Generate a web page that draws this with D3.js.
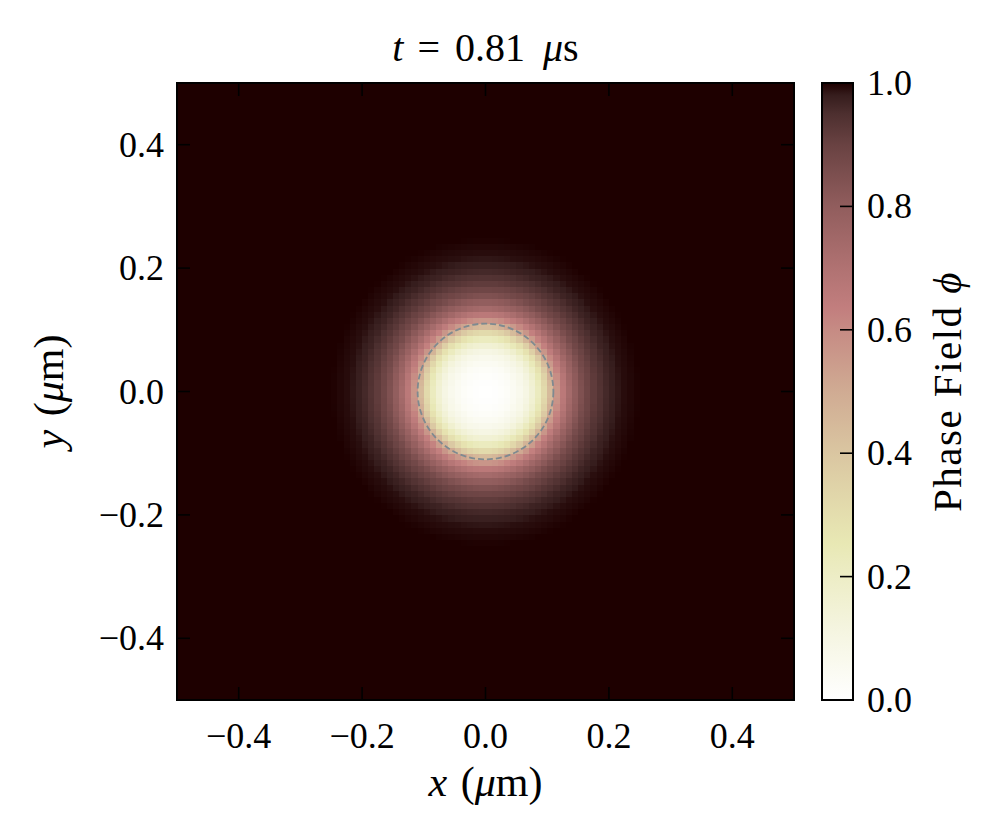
<!DOCTYPE html>
<html>
<head>
<meta charset="utf-8">
<script src="https://cdn.jsdelivr.net/npm/d3@7"></script>
<style>
  body { margin: 0; background: #fff; }
  text { font-family: "Liberation Serif", "DejaVu Serif", serif; fill: #000; }
</style>
</head>
<body>
<div id="chart"></div>
<script>
// radial profile of the phase field (r in um)
var profileR   = [0, 0.02, 0.04, 0.06, 0.07, 0.08, 0.09, 0.10, 0.11, 0.12, 0.13, 0.14, 0.16, 0.18, 0.20, 0.22, 0.25, 0.75];
var profilePhi = [0, 0.01, 0.03, 0.08, 0.12, 0.18, 0.26, 0.37, 0.51, 0.62, 0.70, 0.77, 0.87, 0.93, 0.97, 0.99, 1.0, 1.0];
var gridN = 100;           // cells per side
var domainXY = [-0.5, 0.5];
var interfaceR = 0.11;     // dashed circle radius
var axisTicks = [-0.4, -0.2, 0.0, 0.2, 0.4];
var cbTicks = [0, 0.2, 0.4, 0.6, 0.8, 1.0];
var titleTime = "0.81";

// pink_r colormap stops
var cmapPos = [0, 0.1, 0.2, 0.254, 0.3, 0.4, 0.5, 0.6, 0.635, 0.7, 0.8, 0.9, 0.95, 0.98, 1];
var cmapCol = ["#ffffff", "#f6f6e4", "#ededc6", "#e8e8b4", "#e4deae", "#dac6a1", "#d0ab93",
               "#c68b84", "#c27e7e", "#b07272", "#915d5d", "#694242", "#4d2f2f", "#361d1d", "#1e0000"];

var W = 998, H = 834;
var plot = {left: 177, right: 794, top: 83, bottom: 700};
var cb = {left: 822, right: 853, top: 83, bottom: 700};

var svg = d3.select("#chart").append("svg")
    .attr("width", W)
    .attr("height", H);

var x = d3.scaleLinear().domain(domainXY).range([plot.left, plot.right]);
var y = d3.scaleLinear().domain(domainXY).range([plot.bottom, plot.top]);
var color = d3.scaleLinear().domain(cmapPos).range(cmapCol).clamp(true);
var profile = d3.scaleLinear().domain(profileR).range(profilePhi).clamp(true);

// grid cells
var step = (domainXY[1] - domainXY[0]) / gridN;
var cells = [];
d3.range(gridN).forEach(function(j) {
    d3.range(gridN).forEach(function(i) {
        var cx = domainXY[0] + (i + 0.5) * step;
        var cy = domainXY[0] + (j + 0.5) * step;
        cells.push({x0: domainXY[0] + i * step, y0: domainXY[0] + j * step,
                    phi: profile(Math.sqrt(cx * cx + cy * cy))});
    });
});

svg.append("g")
    .attr("shape-rendering", "crispEdges")
    .selectAll("rect")
    .data(cells)
    .enter()
    .append("rect")
    .attr("x", function(d) { return x(d.x0); })
    .attr("y", function(d) { return y(d.y0 + step); })
    .attr("width", x(step) - x(0) + 0.5)
    .attr("height", y(0) - y(step) + 0.5)
    .attr("fill", function(d) { return color(d.phi); });

// interface circle
svg.append("ellipse")
    .attr("cx", x(0))
    .attr("cy", y(0))
    .attr("rx", x(interfaceR) - x(0))
    .attr("ry", y(0) - y(interfaceR))
    .attr("fill", "none")
    .attr("stroke", "#7f8a90")
    .attr("stroke-width", 1.8)
    .attr("stroke-dasharray", "6,3");

// frame + inward ticks on all sides
var tickLen = 13;
var ticks = svg.append("g").attr("stroke", "#000").attr("stroke-width", 1.6);
axisTicks.forEach(function(t) {
    ticks.append("line").attr("x1", x(t)).attr("x2", x(t)).attr("y1", plot.bottom).attr("y2", plot.bottom - tickLen);
    ticks.append("line").attr("x1", x(t)).attr("x2", x(t)).attr("y1", plot.top).attr("y2", plot.top + tickLen);
    ticks.append("line").attr("y1", y(t)).attr("y2", y(t)).attr("x1", plot.left).attr("x2", plot.left + tickLen);
    ticks.append("line").attr("y1", y(t)).attr("y2", y(t)).attr("x1", plot.right).attr("x2", plot.right - tickLen);
});
svg.append("rect")
    .attr("x", plot.left).attr("y", plot.top)
    .attr("width", plot.right - plot.left).attr("height", plot.bottom - plot.top)
    .attr("fill", "none").attr("stroke", "#000").attr("stroke-width", 2);

var fmt = d3.format(".1f");
svg.append("g").selectAll("text")
    .data(axisTicks).enter().append("text")
    .attr("x", function(d) { return x(d); })
    .attr("y", 748)
    .attr("text-anchor", "middle")
    .style("font-size", "36px")
    .text(fmt);

svg.append("g").selectAll("text")
    .data(axisTicks).enter().append("text")
    .attr("x", 164)
    .attr("y", function(d) { return y(d) + 12; })
    .attr("text-anchor", "end")
    .style("font-size", "36px")
    .text(fmt);

// axis labels
var xl = svg.append("text")
    .attr("x", x(0)).attr("y", 796)
    .attr("text-anchor", "middle")
    .style("font-size", "42px");
xl.append("tspan").style("font-style", "italic").text("x");
xl.append("tspan").attr("dx", 3).text(" (");
xl.append("tspan").style("font-style", "italic").text("μ");
xl.append("tspan").text("m)");

var yl = svg.append("text")
    .attr("transform", "translate(63," + y(0) + ") rotate(-90)")
    .attr("text-anchor", "middle")
    .style("font-size", "42px");
yl.append("tspan").style("font-style", "italic").text("y");
yl.append("tspan").attr("dx", 3).text(" (");
yl.append("tspan").style("font-style", "italic").text("μ");
yl.append("tspan").text("m)");

// title
var tt = svg.append("text")
    .attr("x", x(0)).attr("y", 61)
    .attr("text-anchor", "middle")
    .style("font-size", "40px");
tt.append("tspan").style("font-style", "italic").text("t");
tt.append("tspan").attr("dx", 14).text("=");
tt.append("tspan").attr("dx", 15).text(titleTime);
tt.append("tspan").attr("dx", 18).style("font-style", "italic").text("μ");
tt.append("tspan").text("s");

// colorbar
var cbY = d3.scaleLinear().domain([0, 1]).range([cb.bottom, cb.top]);
var grad = svg.append("defs").append("linearGradient")
    .attr("id", "cbgrad")
    .attr("x1", 0).attr("y1", 1).attr("x2", 0).attr("y2", 0);
grad.selectAll("stop")
    .data(cmapPos).enter().append("stop")
    .attr("offset", function(d) { return d; })
    .attr("stop-color", function(d) { return color(d); });

svg.append("rect")
    .attr("x", cb.left).attr("y", cb.top)
    .attr("width", cb.right - cb.left).attr("height", cb.bottom - cb.top)
    .attr("fill", "url(#cbgrad)");

var cbt = svg.append("g").attr("stroke", "#000").attr("stroke-width", 1.6);
cbTicks.forEach(function(t) {
    cbt.append("line").attr("y1", cbY(t)).attr("y2", cbY(t)).attr("x1", cb.right).attr("x2", cb.right - tickLen);
});
svg.append("rect")
    .attr("x", cb.left).attr("y", cb.top)
    .attr("width", cb.right - cb.left).attr("height", cb.bottom - cb.top)
    .attr("fill", "none").attr("stroke", "#000").attr("stroke-width", 2);

svg.append("g").selectAll("text")
    .data(cbTicks).enter().append("text")
    .attr("x", 867)
    .attr("y", function(d) { return cbY(d) + 12; })
    .style("font-size", "36px")
    .text(fmt);

var cl = svg.append("text")
    .attr("transform", "translate(961," + cbY(0.5) + ") rotate(-90)")
    .attr("text-anchor", "middle")
    .style("font-size", "41px")
    .style("letter-spacing", "1.5px");
cl.append("tspan").text("Phase Field ");
cl.append("tspan").style("font-style", "italic").text("ϕ");
</script>
</body>
</html>
